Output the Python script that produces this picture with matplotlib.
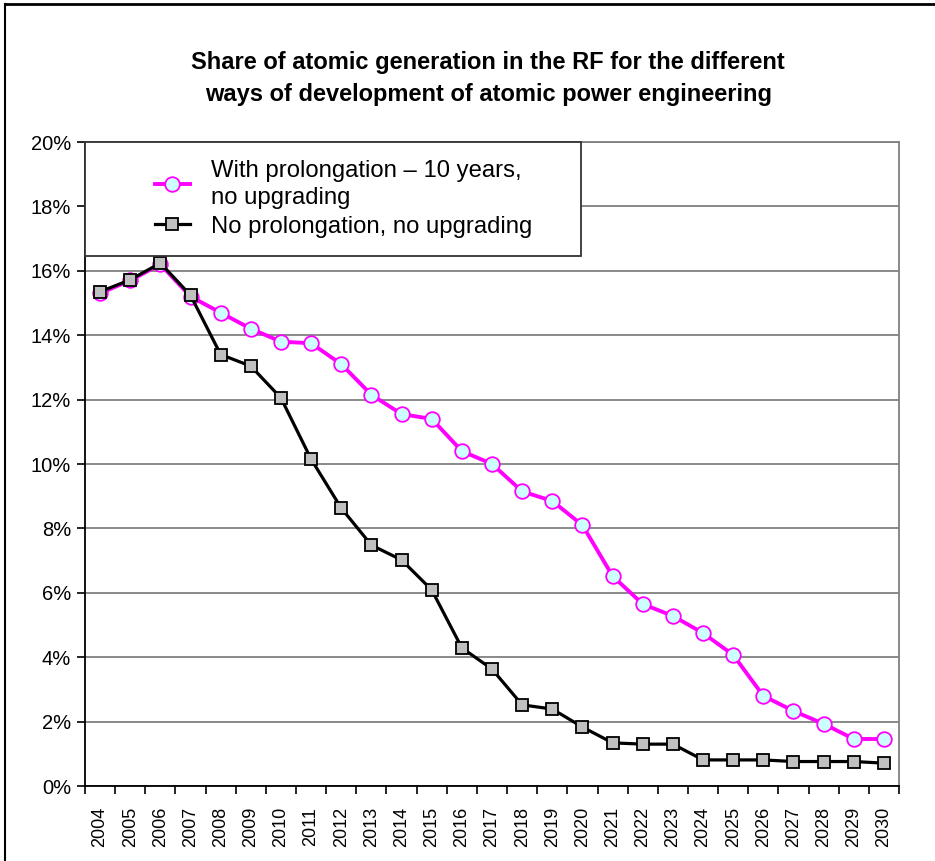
import matplotlib.pyplot as plt
from matplotlib.lines import Line2D
from matplotlib.patches import Rectangle
from matplotlib.ticker import FixedLocator, FuncFormatter

plt.rcParams['font.family'] = ['Liberation Sans', 'DejaVu Sans']

years = [str(y) for y in range(2004, 2031)]
with_prolongation = [15.3, 15.7, 16.2, 15.2, 14.7, 14.2, 13.8, 13.75, 13.1, 12.15,
                     11.55, 11.4, 10.4, 10.0, 9.15, 8.85, 8.1, 6.52, 5.65, 5.28,
                     4.75, 4.07, 2.8, 2.33, 1.93, 1.46, 1.46]
no_prolongation = [15.35, 15.72, 16.24, 15.24, 13.4, 13.04, 12.05, 10.15, 8.63, 7.48,
                   7.02, 6.09, 4.29, 3.63, 2.52, 2.39, 1.83, 1.34, 1.30, 1.30,
                   0.81, 0.81, 0.81, 0.76, 0.76, 0.76, 0.71]
labels = ["With prolongation \u2013 10 years,\nno upgrading",
          "No prolongation, no upgrading"]

fig = plt.figure(figsize=(9.35, 8.61), dpi=100)
ax = fig.add_axes([85 / 935, 1 - 786 / 861, 814 / 935, 644 / 861])

x = range(len(years))
ax.plot(x, with_prolongation, color='#FF00FF', lw=2.8, marker='o', ms=10.5,
        mfc='#CCFFFF', mec='#FF00FF', mew=1.3, label=labels[0], zorder=3)
ax.plot(x, no_prolongation, color='black', lw=2.3, marker='s', ms=8.7,
        mfc='#C0C0C0', mec='black', mew=1.3, label=labels[1], zorder=4)

ax.set_xlim(-0.5, len(years) - 0.5)
ax.set_ylim(0, 20)
ax.set_yticks(range(0, 21, 2))
ax.yaxis.set_major_formatter(FuncFormatter(lambda v, p: f"{v:.0f}%"))
ax.grid(axis='y', color='#808080', lw=1.3)
ax.set_axisbelow(True)

ax.set_xticks(list(x))
ax.set_xticklabels(years, rotation=90, fontsize=13)
ax.xaxis.set_minor_locator(FixedLocator([i - 0.5 for i in range(len(years) + 1)]))
ax.tick_params(axis='x', which='major', length=0, pad=15)
ax.tick_params(axis='x', which='minor', length=6, width=1.2, direction='out')
ax.tick_params(axis='y', length=6, width=1.2, direction='out', labelsize=14.5, pad=4)

for side in ['top', 'right']:
    ax.spines[side].set_color('#808080')
    ax.spines[side].set_linewidth(1.3)
for side in ['left', 'bottom']:
    ax.spines[side].set_color('black')
    ax.spines[side].set_linewidth(1.3)

# legend box drawn over the plot area like the Excel original
ax.add_patch(Rectangle((0, (786 - 256) / 644), (581 - 85) / 814, 1 - (786 - 256) / 644,
                       transform=ax.transAxes, facecolor='white', edgecolor='#333333',
                       lw=1.3, zorder=5, clip_on=False))
leg = ax.legend(loc='upper left', bbox_to_anchor=((145 - 85) / 814, 1 - 8 / 644),
                frameon=False, fontsize=17.2, handlelength=1.5, handletextpad=0.85,
                labelspacing=0.3, borderpad=0.4, borderaxespad=0)
for t in leg.get_texts():
    t.set_linespacing(1.3)
leg.set_zorder(6)

fig.text(0.522, 1 - 78 / 861, "Share of atomic generation in the RF for the different\n"
         "ways of development of atomic power engineering",
         ha='center', va='center', fontsize=17, fontweight='bold', linespacing=1.5)

# outer chart frame (partially visible)
fig.add_artist(Line2D([5 / 935, 1], [1 - 4 / 861, 1 - 4 / 861], color='black', lw=2))
fig.add_artist(Line2D([5 / 935, 5 / 935], [0, 1 - 4 / 861], color='black', lw=1.5))

fig.savefig('out.png', dpi=100)
